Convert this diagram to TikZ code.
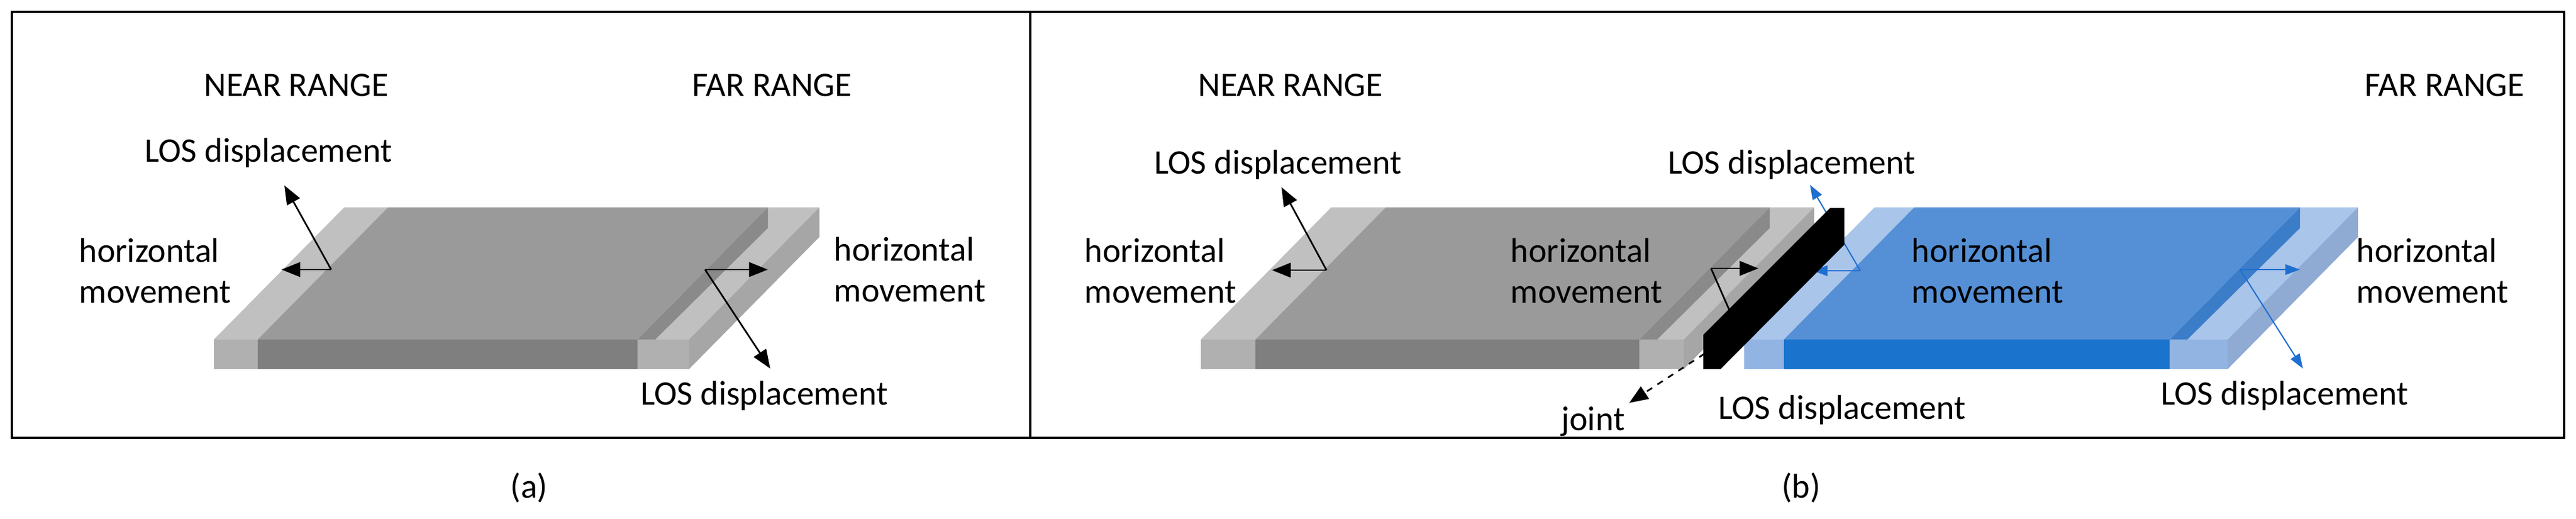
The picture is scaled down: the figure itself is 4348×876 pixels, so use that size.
\documentclass[tikz,border=0pt]{standalone}
\usepackage{fontspec}
\setmainfont{Carlito}
\usetikzlibrary{calc,arrows.meta}
\definecolor{gLT}{HTML}{C0C0C0}\definecolor{gLF}{HTML}{B0B0B0}
\definecolor{gDT}{HTML}{9A9A9A}\definecolor{gDF}{HTML}{7F7F7F}
\definecolor{gDS}{HTML}{8A8A8A}\definecolor{gRS}{HTML}{A6A6A6}
\definecolor{bLT}{HTML}{AAC5EA}\definecolor{bLF}{HTML}{92B4E3}
\definecolor{bDT}{HTML}{5590D6}\definecolor{bDF}{HTML}{1A73CC}
\definecolor{bDS}{HTML}{3B7DC9}\definecolor{bRS}{HTML}{8FAAD3}
\definecolor{arrowblue}{HTML}{1F6FD0}
\newcommand\myslab[5]{%
 \fill[#5LT] (#1,350)--(#2,350)--($(#2,350)+(-220,223)$)--($(#1,350)+(-220,223)$)--cycle;
 \fill[#5LF] ($(#1,350)+(-220,223)$) rectangle ($(#2,350)+(-220,273)$);
 \fill[#5DT] (#2,350)--(#3,350)--($(#3,350)+(-220,223)$)--($(#2,350)+(-220,223)$)--cycle;
 \fill[#5DF] ($(#2,350)+(-220,223)$) rectangle ($(#3,350)+(-220,273)$);
 \fill[#5LT] (#3,350)--(#4,350)--($(#4,350)+(-220,223)$)--($(#3,350)+(-220,223)$)--cycle;
 \fill[#5DS] (#3,350)--(#3,385)--($(#3,350)+(-190,223)$)--($(#3,350)+(-220,223)$)--cycle;
 \fill[#5LF] ($(#3,350)+(-220,223)$) rectangle ($(#4,350)+(-220,273)$);
 \fill[#5RS] (#4,350)--(#4,400)--($(#4,350)+(-220,273)$)--($(#4,350)+(-220,223)$)--cycle;
}
\begin{document}
\begin{tikzpicture}[x=0.01cm,y=-0.01cm,
  lbl/.style={font=\fontsize{16.5}{19.6}\selectfont,inner sep=0pt},
  lblL/.style={lbl,align=left,anchor=west},
  arr/.style={line width=0.8pt,-{Triangle[length=9pt,width=7pt]}},
  barr/.style={arr,draw=arrowblue,line width=0.6pt,-{Triangle[length=7pt,width=5pt]}},
  frame/.style={line width=1.1pt}]
\useasboundingbox (0,0) rectangle (4348,876);
\fill[white] (0,0) rectangle (4348,876);
% frame
\draw[frame] (20,20) rectangle (4328,739);
\draw[frame] (1739,20) -- (1739,739);
% ---------- panel (a)
\myslab{581}{655}{1296}{1383}{g}
\coordinate (aL) at (559,455); \coordinate (aR) at (1190,455);
\draw[arr] (aL) -- (475,455);
\draw[arr] (aL) -- (480,313);
\draw[arr] (aR) -- (1296,455);
\draw[arr] (aR) -- (1300,622);
\node[lbl] (anr) at (500,144) {NEAR RANGE};
\node[lbl] (afr) at (1303,144) {FAR RANGE};
\node[lbl] (alos1) at (453,258) {LOS displacement};
\node[lblL] (ahm1) at (133,457) {horizontal\\movement};
\node[lblL] (ahm2) at (1407,455) {horizontal\\movement};
\node[lbl] (alos2) at (1290,668) {LOS displacement};
\node[lbl] (la) at (893,823) {(a)};
% ---------- panel (b)
\myslab{2247}{2339}{2987}{3062}{g}
\myslab{3164}{3231}{3882}{3980}{b}
\coordinate (bL) at (2239,456); \coordinate (bM) at (2888,453);
\coordinate (bJ) at (3140,457); \coordinate (bR) at (3781,455);
\draw[arr] (bL) -- (2147,456);
\draw[arr] (bL) -- (2163,316);
\draw[arr] (bM) -- (2968,453);
\draw[line width=0.8pt] (bM) -- (2935,560);
\draw[barr] (bJ) -- (3060,457);
\draw[barr] (bJ) -- (3055,312);
\draw[barr] (bR) -- (3882,455);
\draw[barr] (bR) -- (3887,622);
% joint
\fill[black] (2875,565)--(3089,351)--(3113,351)--(3113,413)--(2904,623)--(2875,623)--cycle;
\coordinate (jt) at (2877,597);
\draw[line width=0.8pt,dashed,-{Triangle[length=9pt,width=7pt]}] (jt) -- (2750,680);
\node[lbl] (jn) at (2689,712) {joint};
\node[lbl] (bnr) at (2178,144) {NEAR RANGE};
\node[lbl] (bfr) at (4126,144) {FAR RANGE};
\node[lbl] (blos1) at (2157,278) {LOS displacement};
\node[lbl] (blos2) at (3024,278) {LOS displacement};
\node[lblL] (bhm1) at (1830,457) {horizontal\\movement};
\node[lblL] (bhm2) at (2549,457) {horizontal\\movement};
\node[lblL] (bhm3) at (3226,457) {horizontal\\movement};
\node[lblL] (bhm4) at (3977,457) {horizontal\\movement};
\node[lbl] (blos3) at (3109,692) {LOS displacement};
\node[lbl] (blos4) at (3856,668) {LOS displacement};
\node[lbl] (lb) at (3040,823) {(b)};
\end{tikzpicture}
\end{document}
